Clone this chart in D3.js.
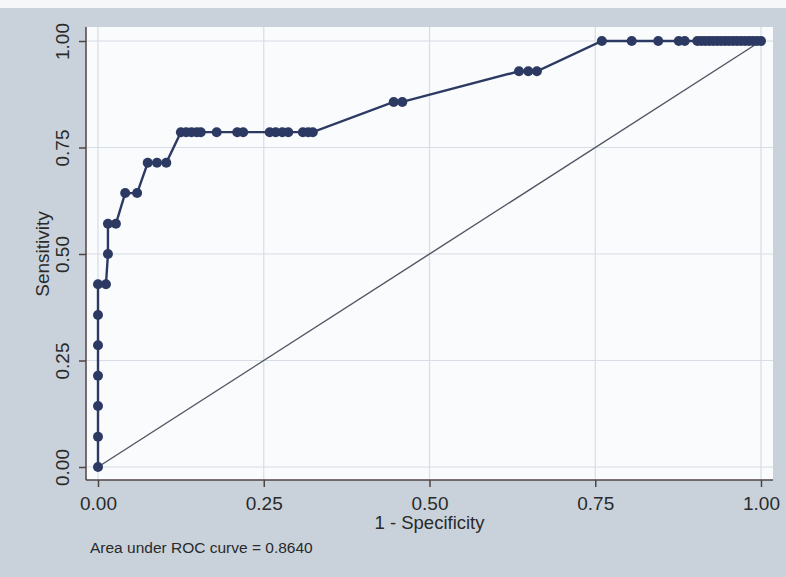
<!DOCTYPE html>
<html>
<head>
<meta charset="utf-8">
<script src="https://cdn.jsdelivr.net/npm/d3@7"></script>
<style>
  html, body { margin: 0; padding: 0; background: #f6f7f8; }
  svg { display: block; }
</style>
</head>
<body>
<svg id="chart" width="786" height="577"></svg>
<script>
// ---- data ----
const fpr = [0.000, 0.000, 0.000, 0.000, 0.000, 0.000, 0.000, 0.012,
             0.015, 0.015, 0.027,
             0.041, 0.059,
             0.075, 0.089, 0.103,
             0.125, 0.133, 0.141, 0.149, 0.155, 0.179, 0.210, 0.219,
             0.259, 0.268, 0.278, 0.287, 0.309, 0.317, 0.324,
             0.446, 0.459,
             0.635, 0.649, 0.662,
             0.760, 0.805, 0.845, 0.876, 0.885,
             0.904, 0.910, 0.916, 0.922, 0.928, 0.934, 0.940, 0.946, 0.952,
             0.958, 0.964, 0.970, 0.976, 0.982, 0.988, 0.994, 1.000];
const tpr = [0.000, 0.071, 0.143, 0.214, 0.286, 0.357, 0.429, 0.429,
             0.500, 0.571, 0.571,
             0.643, 0.643,
             0.714, 0.714, 0.714,
             0.786, 0.786, 0.786, 0.786, 0.786, 0.786, 0.786, 0.786,
             0.786, 0.786, 0.786, 0.786, 0.786, 0.786, 0.786,
             0.857, 0.857,
             0.929, 0.929, 0.929,
             1.000, 1.000, 1.000, 1.000, 1.000,
             1.000, 1.000, 1.000, 1.000, 1.000, 1.000, 1.000, 1.000, 1.000,
             1.000, 1.000, 1.000, 1.000, 1.000, 1.000, 1.000, 1.000];
const refLine = [0, 1];
const tickValues = [0, 0.25, 0.5, 0.75, 1];
const tickLabels = ["0.00", "0.25", "0.50", "0.75", "1.00"];
const xTitle = "1 - Specificity";
const yTitle = "Sensitivity";
const note = "Area under ROC curve = 0.8640";

// ---- drawing ----
const svg = d3.select("#chart");
const W = 786, H = 577;

const x = d3.scaleLinear().domain([0, 1]).range([98, 761]);
const y = d3.scaleLinear().domain([0, 1]).range([467, 41]);

const navy = "#2c3a63";
const axisCol = "#4f4444";
const font = "'Liberation Sans', Arial, sans-serif";

// outer graph region
svg.append("rect").attr("x", 0).attr("y", 8).attr("width", W).attr("height", H - 8)
  .attr("fill", "#c9d2da");

// plot region
const plotL = 86, plotR = 773, plotT = 27, plotB = 480;
svg.append("rect").attr("x", plotL).attr("y", plotT)
  .attr("width", plotR - plotL).attr("height", plotB - plotT)
  .attr("fill", "#fafbfc");

// grid
const grid = svg.append("g").attr("stroke", "#d6dde5").attr("stroke-width", 1.2);
grid.selectAll("line.h").data(tickValues).join("line").attr("class", "h")
  .attr("x1", plotL).attr("x2", plotR)
  .attr("y1", d => y(d)).attr("y2", d => y(d));
grid.selectAll("line.v").data(tickValues).join("line").attr("class", "v")
  .attr("y1", plotT).attr("y2", plotB)
  .attr("x1", d => x(d)).attr("x2", d => x(d));

// axes
const yAxis = d3.axisLeft(y).tickValues(tickValues).tickSize(7)
  .tickFormat((d, i) => tickLabels[i]);
const gy = svg.append("g").attr("transform", `translate(${plotL},0)`).call(yAxis);
gy.select(".domain").attr("d", `M0,${plotT}V${plotB}`);
gy.selectAll("path, line").attr("stroke", axisCol).attr("stroke-width", 1.5);
gy.selectAll("text")
  .attr("font-family", font).attr("font-size", 19).attr("fill", "#2a2a2a")
  .attr("text-anchor", "middle").attr("dy", null).attr("x", null)
  .attr("transform", "translate(-17,0) rotate(-90)");

const xAxis = d3.axisBottom(x).tickValues(tickValues).tickSize(7)
  .tickFormat((d, i) => tickLabels[i]);
const gx = svg.append("g").attr("transform", `translate(0,${plotB})`).call(xAxis);
gx.select(".domain").attr("d", `M${plotL},0H${plotR}`);
gx.selectAll("path, line").attr("stroke", axisCol).attr("stroke-width", 1.5);
gx.selectAll("text")
  .attr("font-family", font).attr("font-size", 19).attr("fill", "#2a2a2a")
  .attr("y", 30).attr("dy", null);

// titles
svg.append("text").attr("x", x(0.5)).attr("y", 529)
  .attr("text-anchor", "middle").attr("font-family", font).attr("font-size", 18.5)
  .attr("fill", "#2a2a2a").text(xTitle);
svg.append("text")
  .attr("transform", `translate(49,${y(0.5)}) rotate(-90)`)
  .attr("text-anchor", "middle").attr("font-family", font).attr("font-size", 19)
  .attr("fill", "#2a2a2a").text(yTitle);
svg.append("text").attr("x", 90).attr("y", 553)
  .attr("font-family", font).attr("font-size", 15.5)
  .attr("fill", "#2a2a2a").text(note);

// reference line
const line = d3.line().x(d => x(d[0])).y(d => y(d[1]));
svg.append("path").datum(refLine.map(v => [v, v]))
  .attr("d", line).attr("fill", "none").attr("stroke", "#505563").attr("stroke-width", 1.4);

// ROC curve
const pts = fpr.map((f, i) => [f, tpr[i]]);
svg.append("path").datum(pts).attr("d", line)
  .attr("fill", "none").attr("stroke", navy).attr("stroke-width", 2.4);
svg.append("g").selectAll("circle").data(pts).join("circle")
  .attr("cx", d => x(d[0])).attr("cy", d => y(d[1])).attr("r", 5)
  .attr("fill", navy);
</script>
</body>
</html>
